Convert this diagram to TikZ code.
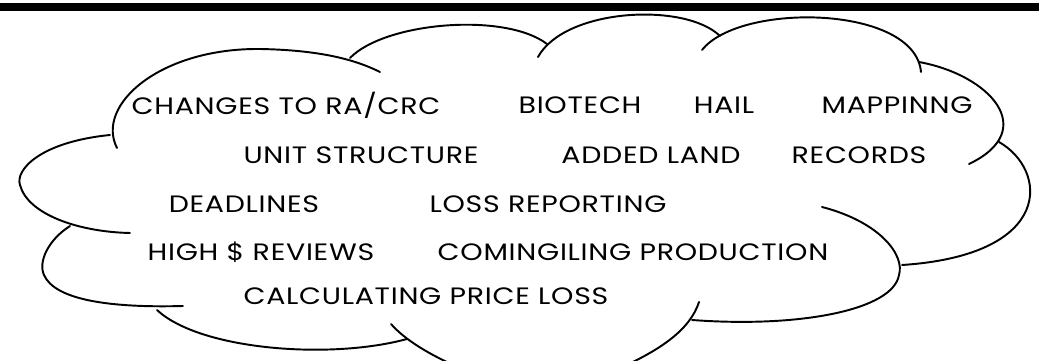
\documentclass[tikz,border=0pt]{standalone}
\usepackage{fontspec}
\newfontfamily\wordfont[LetterSpace=3, FakeStretch=1.2]{Poppins}
\usepackage{tikz}
\usetikzlibrary{positioning}
\tikzset{
puff/.style={line width=1.1pt, line cap=round}, % the arcs of the cloud
word/.style={font=\wordfont\fontsize{13.5}{15}\selectfont, inner sep=0pt, anchor=center}, % the topics
topbar/.style={line width=4pt},
}

\begin{document}
\begin{tikzpicture}[x=0.02cm, y=-0.02cm]
\useasboundingbox (0,0) rectangle (1039,361);
\clip (0,0) rectangle (1039,361);
\fill[white] (0,0) rectangle (1039,361);
\coordinate (barL) at (0,7);
\coordinate (barR) at (1039,7);
\draw[topbar] (barL) -- (barR);
% the cloud, one arc at a time
\draw[puff] (117,148) .. controls (95,105) and (160,48) .. (260,49) .. controls (315,50) and (352,58) .. (380,72);
\draw[puff] (350,58) .. controls (385,22) and (505,12) .. (547,44);
\draw[puff] (538,57) .. controls (565,8) and (685,2) .. (720,36);
\draw[puff] (702,50) .. controls (740,2) and (915,5) .. (921,72);
\draw[puff] (919,62) .. controls (990,75) and (1040,130) .. (969,164);
\draw[puff] (999,142) .. controls (1048,170) and (1055,255) .. (902,265);
\draw[puff] (822,207) .. controls (880,222) and (905,255) .. (899,275) .. controls (893,310) and (800,328) .. (692,320);
\draw[puff] (699,302) .. controls (690,330) and (660,350) .. (620,368);
\draw[puff] (391,324) .. controls (405,340) and (430,355) .. (460,368);
\draw[puff] (157,310) .. controls (200,350) and (330,360) .. (407,339);
\draw[puff] (70,226) .. controls (48,240) and (38,262) .. (44,275) .. controls (55,300) and (110,308) .. (183,306);
\draw[puff] (110,135) .. controls (40,142) and (15,170) .. (20,185) .. controls (28,215) and (80,232) .. (130,233);
% the topics
\node[word] (changes) at (286,105) {CHANGES TO RA/CRC};
\node[word] (biotech) at (580,105) {BIOTECH};
\node[word] (hail) at (724,105) {HAIL};
\node[word] (mapping) at (897,105) {MAPPINNG};
\node[word] (unit) at (361,155) {UNIT STRUCTURE};
\node[word] (added) at (651,155) {ADDED LAND};
\node[word] (records) at (859,155) {RECORDS};
\node[word] (deadlines) at (244,204) {DEADLINES};
\node[word] (lossrep) at (548,204) {LOSS REPORTING};
\node[word] (highrev) at (261,252) {HIGH \$ REVIEWS};
\node[word] (coming) at (633,252) {COMINGILING PRODUCTION};
\node[word] (calcprice) at (426,296) {CALCULATING PRICE LOSS};
\end{tikzpicture}
\end{document}
